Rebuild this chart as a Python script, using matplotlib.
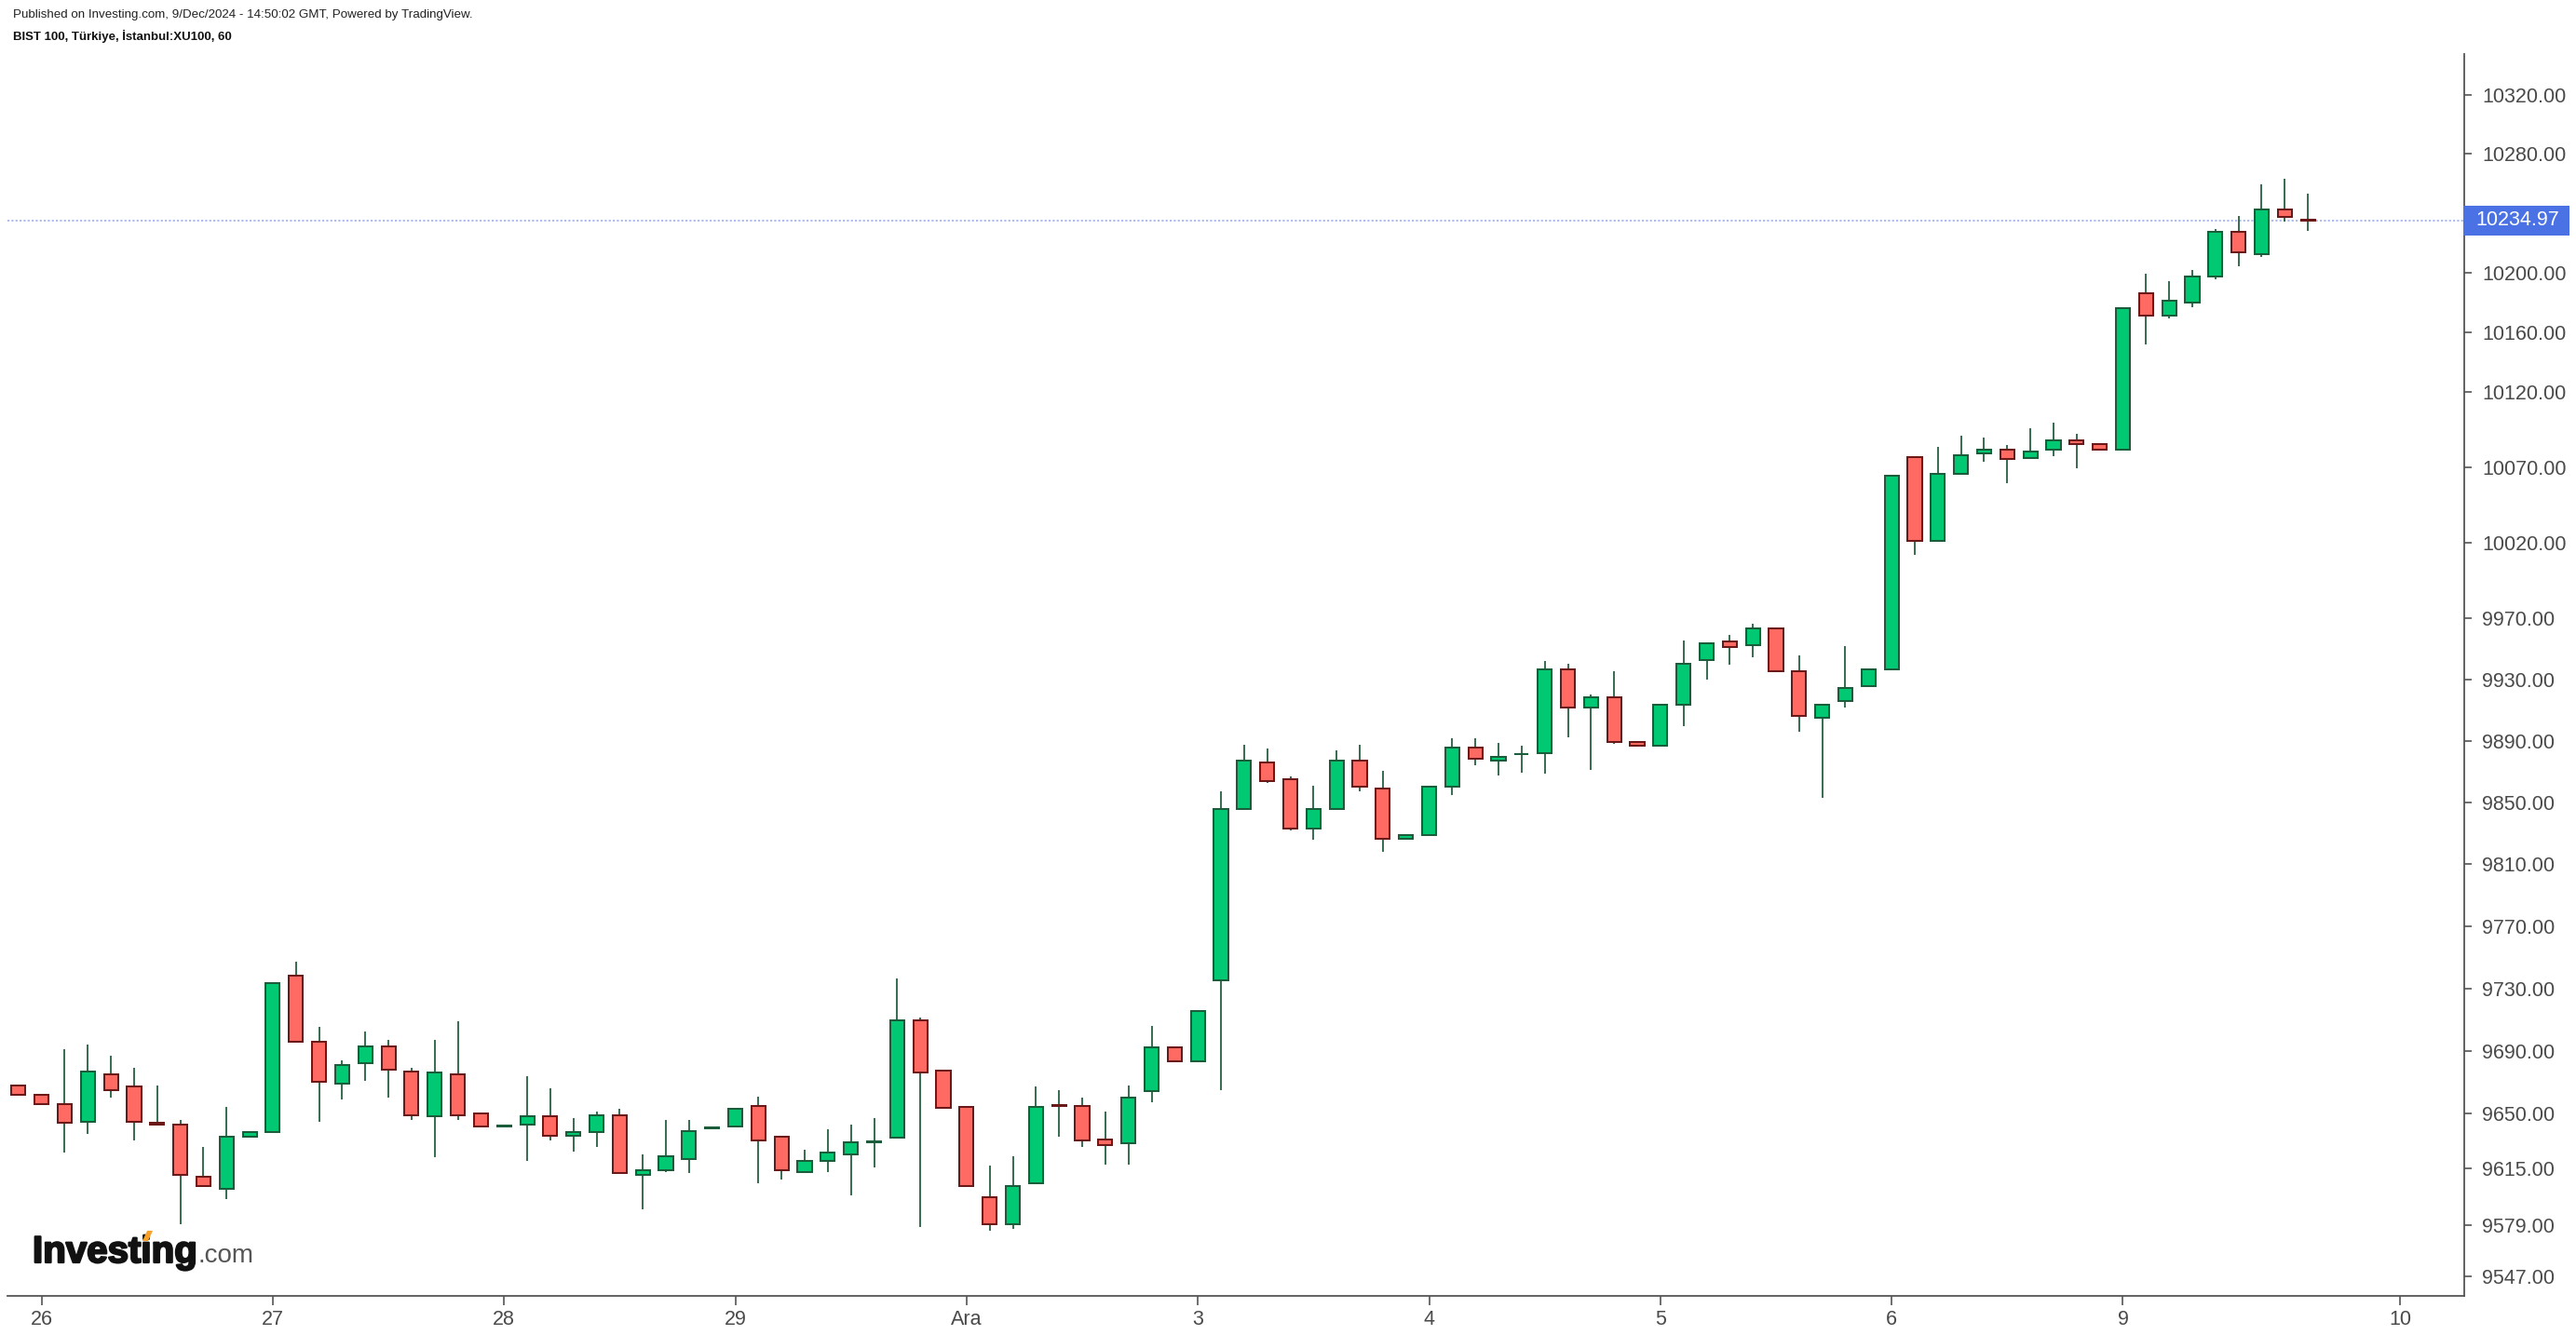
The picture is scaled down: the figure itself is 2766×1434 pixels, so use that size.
import numpy as np
import matplotlib
matplotlib.use('Agg')
import matplotlib.pyplot as plt
import matplotlib.patheffects as pe
from matplotlib.ticker import FixedLocator, FixedFormatter, NullLocator, NullFormatter
from matplotlib.patches import Rectangle, Polygon
from matplotlib.transforms import IdentityTransform

plt.rcParams['font.family'] = ['Liberation Sans', 'DejaVu Sans']

# ---------------- data (hourly bars, BIST 100) ----------------
opens = [9668, 9662, 9656, 9645, 9675, 9667, 9644, 9643, 9610, 9602,
         9635, 9638, 9738, 9696, 9669, 9682, 9693, 9677, 9648, 9675,
         9650, 9642.0, 9643, 9648, 9636, 9638, 9649, 9611, 9614, 9621,
         9640.8, 9642, 9655, 9635, 9613, 9620, 9624, 9632, 9634.5, 9709.6,
         9677.5, 9654, 9596.7, 9580, 9606, 9655.2, 9655, 9633.5, 9631, 9664,
         9692, 9683, 9735.3, 9845.6, 9875.9, 9865.1, 9833.1, 9845.6, 9877.3, 9858.8,
         9826.2, 9828.7, 9860, 9885.6, 9877.0, 9881.2, 9881.9, 9936.8, 9911.5, 9918.6,
         9889.2, 9887, 9913.5, 9942.7, 9955.1, 9952.2, 9963.7, 9935.6, 9905, 9915.9,
         9925.7, 9936.7, 10076.8, 10020.9, 10065.4, 10078.9, 10081.7, 10076.3, 10081.5, 10088.0,
         10085.4, 10081.5, 10186.2, 10170.8, 10179.5, 10197.1, 10227.6, 10212.1, 10242.6, 10235.3]

highs = [9668, 9662, 9691, 9694, 9687, 9679, 9668, 9646, 9629, 9654,
         9638, 9733, 9747, 9705, 9684, 9702, 9697, 9679, 9697, 9709,
         9650, 9643, 9674, 9666, 9647, 9651, 9653, 9624, 9646, 9646,
         9641.5, 9653, 9661, 9636, 9627, 9640, 9643, 9647, 9736, 9711,
         9677.5, 9654, 9617, 9623, 9667, 9665, 9660, 9651, 9668, 9706,
         9692, 9715.5, 9857.1, 9887.3, 9885, 9866.6, 9860.5, 9883.9, 9887.3, 9870.5,
         9828.7, 9860, 9891.8, 9891.8, 9888.5, 9887, 9941.9, 9940.5, 9920.3, 9935.6,
         9889.2, 9913.7, 9955.5, 9953.9, 9959.2, 9966.5, 9963.7, 9945.7, 9913.7, 9951.9,
         9936.9, 10064.4, 10076.8, 10083.4, 10090.8, 10089.6, 10084.6, 10095.7, 10099.5, 10092.0,
         10085.4, 10176.1, 10199.2, 10194.2, 10201.7, 10229.2, 10238.0, 10259.4, 10263.2, 10253.1]

lows = [9662, 9656, 9625, 9637, 9660, 9633, 9643, 9580, 9604, 9596,
        9635, 9638, 9695, 9645, 9659, 9671, 9660, 9646, 9622, 9646,
        9642, 9642.0, 9620, 9633, 9626, 9629, 9612, 9589, 9613, 9612,
        9640.8, 9642, 9606, 9608, 9612, 9613, 9598, 9616, 9634.5, 9578,
        9653.5, 9604, 9576, 9577, 9605, 9635, 9629, 9617.5, 9617.5, 9657,
        9683, 9683, 9664.6, 9845.6, 9862.3, 9832, 9825.9, 9845.6, 9857.1, 9817.6,
        9826.2, 9828.7, 9854.9, 9874.2, 9867.1, 9869.4, 9868.3, 9892.3, 9870.8, 9887.8,
        9887, 9887, 9899.5, 9930.1, 9939.8, 9944.7, 9935.3, 9896.0, 9852.6, 9911.9,
        9925.7, 9936.7, 10011.8, 10020.9, 10065.4, 10073.7, 10059.2, 10075.1, 10077.5, 10069.0,
        10081.5, 10081.5, 10151.7, 10169.3, 10176.6, 10195.4, 10204.3, 10210.4, 10234.4, 10227.9]

closes = [9662, 9656, 9644, 9677, 9665, 9645, 9643, 9611, 9604, 9635,
          9638, 9733, 9696, 9670, 9681, 9693, 9678, 9649, 9676, 9649,
          9642, 9642.6, 9648, 9636, 9638, 9649, 9612, 9614, 9623, 9639,
          9641.4, 9653, 9633, 9614, 9620, 9625, 9632, 9632.2, 9709.6, 9676,
          9653.5, 9604, 9580, 9604, 9654, 9655, 9633, 9630, 9660, 9692,
          9683, 9715.5, 9845.9, 9877.3, 9863.7, 9833.1, 9845.9, 9877.3, 9860, 9826.2,
          9828.7, 9860, 9885.6, 9878.5, 9879.6, 9881.4, 9936.8, 9911.5, 9918.6, 9889.2,
          9887, 9913.7, 9940.4, 9953.9, 9951.2, 9963.7, 9935.3, 9906.0, 9913.7, 9924.7,
          9936.9, 10064.4, 10020.9, 10065.6, 10078.0, 10081.7, 10075.1, 10080.4, 10088.0, 10085.0,
          10081.5, 10176.1, 10170.8, 10181.2, 10197.5, 10227.6, 10213.3, 10242.6, 10237.1, 10234.97]

day_labels = ['26', '27', '28', '29', 'Ara', '3', '4', '5', '6', '9', '10']
day_tick_bars = [1, 11, 21, 31, 41, 51, 61, 71, 81, 91, 103]
price_ticks = [10320, 10280, 10200, 10160, 10120, 10070, 10020, 9970, 9930, 9890,
               9850, 9810, 9770, 9730, 9690, 9650, 9615, 9579, 9547]
last_price = 10234.97

# ---------------- styling ----------------
GREEN_FILL = '#00c873'
GREEN_EDGE = '#1b5c3a'
RED_FILL = '#ff6a62'
RED_EDGE = '#6a1818'
WICK = '#1e5a3a'
AXIS_COL = '#555555'
LABEL_COL = '#4a4a4a'

W, H = 2766, 1434
fig = plt.figure(figsize=(W / 100, H / 100), dpi=100)
ax = fig.add_axes([8 / W, 1 - 1392 / H, (2646 - 8) / W, (1392 - 58) / H])

o = np.array(opens, float)
h = np.array(highs, float)
l = np.array(lows, float)
c = np.array(closes, float)
x = np.arange(len(o))
up = c >= o

ax.vlines(x, l, h, color=WICK, linewidth=1.25, zorder=2)
bottoms = np.minimum(o, c)
heights = np.maximum(np.abs(c - o), 0.3)
ax.bar(x, heights, bottom=bottoms, width=0.61,
       color=np.where(up, GREEN_FILL, RED_FILL),
       edgecolor=np.where(up, GREEN_EDGE, RED_EDGE),
       linewidth=1.45, zorder=3)

ax.axhline(last_price, color='#a7b5ef', linewidth=1.3, linestyle=(0, (1.2, 1.2)), zorder=1)

ax.set_yscale('log')
ax.set_ylim(9534.7, 10347.9)
ax.set_xlim(-0.474, 105.76)

ax.yaxis.set_major_locator(FixedLocator(price_ticks))
ax.yaxis.set_major_formatter(FixedFormatter([f'{v:.2f}' for v in price_ticks]))
ax.yaxis.set_minor_locator(NullLocator())
ax.yaxis.set_minor_formatter(NullFormatter())
ax.yaxis.tick_right()
ax.set_xticks(day_tick_bars)
ax.set_xticklabels(day_labels)

for side in ['left', 'top']:
    ax.spines[side].set_visible(False)
for side in ['right', 'bottom']:
    ax.spines[side].set_color(AXIS_COL)
    ax.spines[side].set_linewidth(1.3)

ax.tick_params(axis='y', length=6, width=1.2, color=AXIS_COL, pad=8,
               labelsize=15.5, labelcolor=LABEL_COL)
ax.tick_params(axis='x', length=7, width=1.2, color=AXIS_COL, pad=4,
               labelsize=15.5, labelcolor=LABEL_COL)

# current price label
yd = ax.transData.transform((0, last_price))[1]
fig.add_artist(Rectangle((2645, yd - 16), 114, 32, transform=IdentityTransform(),
                         facecolor='#4a72e4', edgecolor='none', zorder=5))
fig.text(2703, yd, f'{last_price:.2f}', transform=IdentityTransform(), ha='center',
         va='center', color='white', fontsize=15.5, zorder=6)

# header
fig.text(14 / W, 1 - 16 / H, 'Published on Investing.com, 9/Dec/2024 - 14:50:02 GMT, Powered by TradingView.',
         ha='left', va='center', fontsize=9.6, color='#222222')
fig.text(14 / W, 1 - 39 / H, 'BIST 100, Türkiye, İstanbul:XU100, 60',
         ha='left', va='center', fontsize=9.5, fontweight='bold', color='#111111')

# watermark logo
logo = fig.text(35 / W, 1 - 1356 / H, 'Investing', ha='left', va='baseline', fontsize=29,
                fontweight='bold', color='#111111',
                path_effects=[pe.withStroke(linewidth=1.6, foreground='#111111')])
renderer = fig.canvas.get_renderer()
ext = logo.get_window_extent(renderer=renderer)
fig.text(ext.x1 + 1, H - 1356, '.com', transform=IdentityTransform(), ha='left',
         va='baseline', fontsize=20, color='#555555')
fig.add_artist(Polygon([(153, H - 1333), (159, H - 1333), (164, H - 1322), (158, H - 1322)],
                       closed=True, transform=IdentityTransform(), facecolor='#f7a12b',
                       edgecolor='none', zorder=6))

fig.savefig('out.png', dpi=100)
